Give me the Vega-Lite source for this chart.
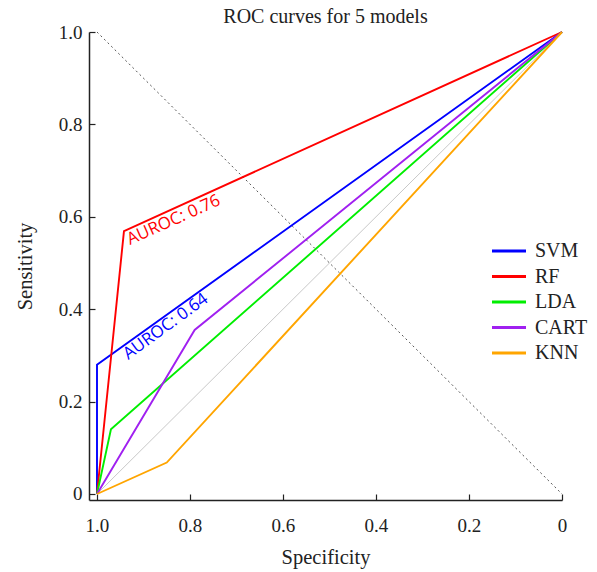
{
  "$schema": "https://vega.github.io/schema/vega-lite/v6.json",
  "width": 473,
  "height": 468,
  "autosize": {"type": "none"},
  "padding": {"left": 89, "top": 32, "right": 35, "bottom": 72},
  "background": "white",
  "title": {"text": "ROC curves for 5 models", "font": "Liberation Serif", "fontSize": 20, "fontWeight": "normal", "color": "#222", "frame": "group", "anchor": "middle", "offset": -4},
  "config": {
    "view": {"stroke": null},
    "axis": {"grid": false, "domainColor": "#222", "domainWidth": 1.5, "tickColor": "#222", "tickSize": -6, "tickWidth": 1.2, "labelFont": "Liberation Serif", "labelFontSize": 19, "labelColor": "#222", "labelFlush": false, "titleFont": "Liberation Serif", "titleFontSize": 20.5, "titleFontWeight": "normal", "titleColor": "#222"},
    "legend": {"orient": "none", "legendX": 410, "legendY": 209, "symbolType": "M-2,0H2", "symbolSize": 289, "symbolStrokeWidth": 3, "labelFont": "Liberation Serif", "labelFontSize": 20, "labelColor": "#222", "rowPadding": 5.5, "labelOffset": 16, "padding": 0}
  },
  "datasets": {
    "curves": [
      {"model": "SVM", "step": 0, "specificity": 1.0, "sensitivity": 0.0},
      {"model": "SVM", "step": 1, "specificity": 1.0, "sensitivity": 0.28},
      {"model": "SVM", "step": 2, "specificity": 0.0, "sensitivity": 1.0},
      {"model": "RF", "step": 0, "specificity": 1.0, "sensitivity": 0.0},
      {"model": "RF", "step": 1, "specificity": 0.942, "sensitivity": 0.569},
      {"model": "RF", "step": 2, "specificity": 0.0, "sensitivity": 1.0},
      {"model": "LDA", "step": 0, "specificity": 1.0, "sensitivity": 0.0},
      {"model": "LDA", "step": 1, "specificity": 0.97, "sensitivity": 0.14},
      {"model": "LDA", "step": 2, "specificity": 0.0, "sensitivity": 1.0},
      {"model": "CART", "step": 0, "specificity": 1.0, "sensitivity": 0.0},
      {"model": "CART", "step": 1, "specificity": 0.79, "sensitivity": 0.355},
      {"model": "CART", "step": 2, "specificity": 0.0, "sensitivity": 1.0},
      {"model": "KNN", "step": 0, "specificity": 1.0, "sensitivity": 0.0},
      {"model": "KNN", "step": 1, "specificity": 0.85, "sensitivity": 0.068},
      {"model": "KNN", "step": 2, "specificity": 0.0, "sensitivity": 1.0}
    ],
    "chance": [
      {"specificity": 1.0, "sensitivity": 0.0},
      {"specificity": 0.0, "sensitivity": 1.0}
    ],
    "anti": [
      {"specificity": 1.0, "sensitivity": 1.0},
      {"specificity": 0.0, "sensitivity": 0.0}
    ],
    "rfLabel": [{"specificity": 0.929, "sensitivity": 0.539, "label": "AUROC: 0.76"}],
    "svmLabel": [{"specificity": 0.933, "sensitivity": 0.29, "label": "AUROC: 0.64"}]
  },
  "layer": [
    {
      "data": {"name": "chance"},
      "mark": {"type": "line", "color": "#c8c8c8", "strokeWidth": 1},
      "encoding": {
        "x": {"field": "specificity", "type": "quantitative", "scale": {"domain": [0, 1.0172], "reverse": true, "nice": false, "zero": false},
          "axis": {"title": "Specificity", "values": [1, 0.8, 0.6, 0.4, 0.2, 0], "labelExpr": "datum.value == 0 ? '0' : format(datum.value, '.1f')", "labelPadding": 22, "titlePadding": 12}},
        "y": {"field": "sensitivity", "type": "quantitative", "scale": {"domain": [-0.013, 1], "nice": false, "zero": false},
          "axis": {"title": "Sensitivity", "values": [0, 0.2, 0.4, 0.6, 0.8, 1], "labelExpr": "datum.value == 0 ? '0' : format(datum.value, '.1f')", "labelPadding": 13, "titlePadding": 23}}
      }
    },
    {
      "data": {"name": "anti"},
      "mark": {"type": "line", "color": "#555", "strokeWidth": 1, "strokeDash": [2, 3]},
      "encoding": {
        "x": {"field": "specificity", "type": "quantitative"},
        "y": {"field": "sensitivity", "type": "quantitative"}
      }
    },
    {
      "data": {"name": "curves"},
      "mark": {"type": "line", "strokeWidth": 1.9},
      "encoding": {
        "x": {"field": "specificity", "type": "quantitative"},
        "y": {"field": "sensitivity", "type": "quantitative"},
        "order": {"field": "step", "type": "quantitative"},
        "color": {"field": "model", "type": "nominal", "title": null,
          "scale": {"domain": ["SVM", "RF", "LDA", "CART", "KNN"], "range": ["#0000ff", "#ff0000", "#00ee00", "#a020f0", "#ffa500"]}}
      }
    },
    {
      "data": {"name": "rfLabel"},
      "mark": {"type": "text", "color": "#ff0000", "font": "Open Sans", "fontSize": 17, "angle": -24, "align": "left", "baseline": "alphabetic"},
      "encoding": {
        "x": {"field": "specificity", "type": "quantitative"},
        "y": {"field": "sensitivity", "type": "quantitative"},
        "text": {"field": "label"}
      }
    },
    {
      "data": {"name": "svmLabel"},
      "mark": {"type": "text", "color": "#0000ff", "font": "Open Sans", "fontSize": 17, "angle": -36, "align": "left", "baseline": "alphabetic"},
      "encoding": {
        "x": {"field": "specificity", "type": "quantitative"},
        "y": {"field": "sensitivity", "type": "quantitative"},
        "text": {"field": "label"}
      }
    }
  ]
}
